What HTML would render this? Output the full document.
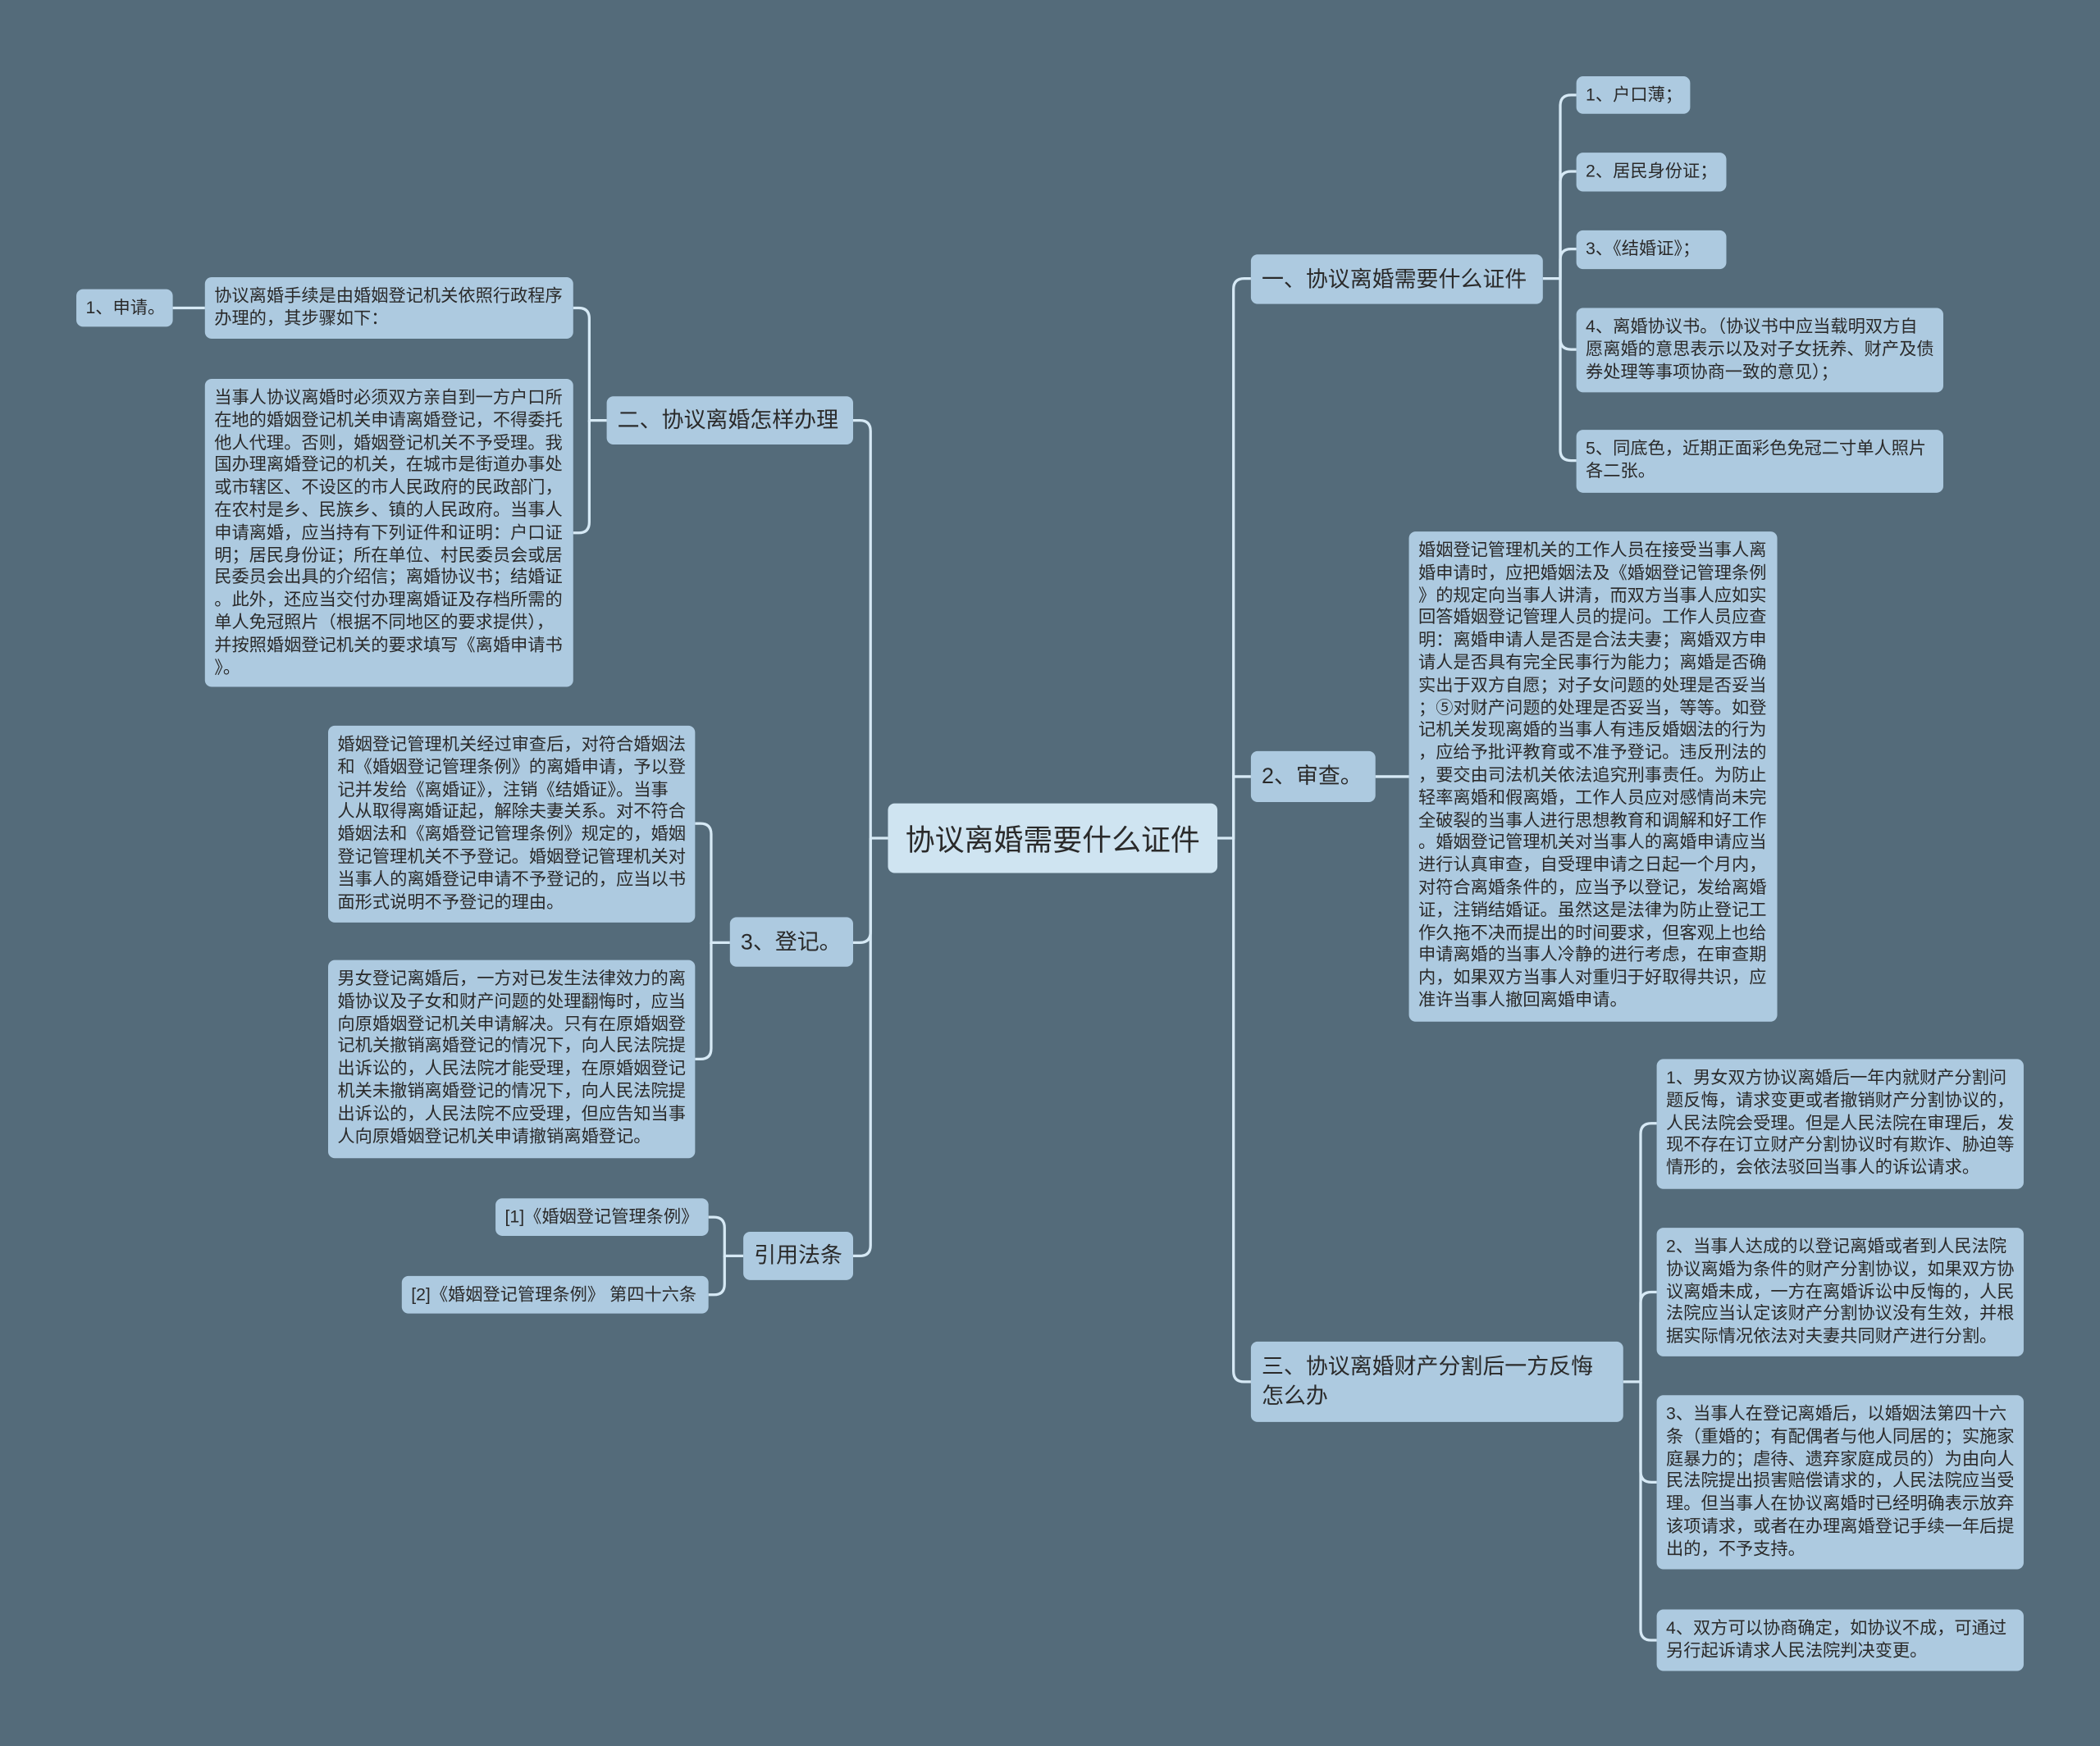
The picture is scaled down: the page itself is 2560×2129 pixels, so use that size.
<!DOCTYPE html>
<html><head><meta charset="utf-8">
<style>
html,body{margin:0;padding:0;background:#546b7a;}
body{width:2560px;height:2129px;overflow:hidden;position:relative;}
#c{position:absolute;left:0;top:0;width:1568px;height:1304px;transform:scale(1.632653);transform-origin:0 0;font-family:"Liberation Sans","Noto Sans CJK SC",sans-serif;color:#2a2a2a;}
.n{position:absolute;box-sizing:border-box;background:#adcae0;border-radius:5px;white-space:nowrap;}
.s{font-size:13px;line-height:16.8px;padding:6px 7px;}
.b{font-size:16.5px;line-height:22px;padding:0 8px;display:flex;align-items:center;}
svg{position:absolute;left:0;top:0;}
</style></head><body><div id="c">
<svg width="1568" height="1304" fill="none" stroke="#d6e9f5" stroke-width="2">
<path d="M909 626 H921 V216 Q921 208 929 208 H934"/>
<path d="M921 626 V580 H934"/>
<path d="M921 626 V1024 Q921 1032 929 1032 H934"/>
<path d="M663 626 H650 V322 Q650 314 642 314 H637"/>
<path d="M650 626 V696 Q650 704 642 704 H637"/>
<path d="M650 626 V930 Q650 938 642 938 H637"/>
<path d="M453 314 H440 V238 Q440 230 432 230 H428"/>
<path d="M440 314 V390 Q440 398 432 398 H428"/>
<path d="M153 230 H129"/>
<path d="M545 704 H531 V623 Q531 615 523 615 H519"/>
<path d="M531 704 V783 Q531 791 523 791 H519"/>
<path d="M555 938 H541 V917 Q541 909 533 909 H529"/>
<path d="M541 938 V959 Q541 967 533 967 H529"/>
<path d="M1152 208 H1165 V79 Q1165 71 1173 71 H1177"/>
<path d="M1165 208 V136 Q1165 128 1173 128 H1177"/>
<path d="M1165 208 V194 Q1165 186 1173 186 H1177"/>
<path d="M1165 208 V253 Q1165 261 1173 261 H1177"/>
<path d="M1165 208 V336 Q1165 344 1173 344 H1177"/>
<path d="M1027 580 H1052"/>
<path d="M1212 1032 H1225 V847 Q1225 839 1233 839 H1237"/>
<path d="M1225 1032 V973 Q1225 965 1233 965 H1237"/>
<path d="M1225 1032 V1099 Q1225 1107 1233 1107 H1237"/>
<path d="M1225 1032 V1217 Q1225 1225 1233 1225 H1237"/>
</svg>

<div class="n" style="left:663px;top:600px;width:246px;height:52px;background:#cfe4f1;font-size:22px;display:flex;align-items:center;justify-content:center;">协议离婚需要什么证件</div>

<div class="n b" style="left:453px;top:296px;width:184px;height:36px;">二、协议离婚怎样办理</div>
<div class="n s" style="left:153px;top:207px;width:275px;height:46px;">协议离婚手续是由婚姻登记机关依照行政程序<br>办理的，其步骤如下：</div>
<div class="n s" style="left:57px;top:216px;width:72px;height:28px;">1、申请。</div>
<div class="n s" style="left:153px;top:283px;width:275px;height:230px;">当事人协议离婚时必须双方亲自到一方户口所<br>在地的婚姻登记机关申请离婚登记，不得委托<br>他人代理。否则，婚姻登记机关不予受理。我<br>国办理离婚登记的机关，在城市是街道办事处<br>或市辖区、不设区的市人民政府的民政部门，<br>在农村是乡、民族乡、镇的人民政府。当事人<br>申请离婚，应当持有下列证件和证明：户口证<br>明；居民身份证；所在单位、村民委员会或居<br>民委员会出具的介绍信；离婚协议书；结婚证<br>。此外，还应当交付办理离婚证及存档所需的<br>单人免冠照片（根据不同地区的要求提供），<br>并按照婚姻登记机关的要求填写《离婚申请书<br>》。</div>

<div class="n b" style="left:545px;top:685px;width:92px;height:37px;">3、登记。</div>
<div class="n s" style="left:245px;top:542px;width:274px;height:147px;">婚姻登记管理机关经过审查后，对符合婚姻法<br>和《婚姻登记管理条例》的离婚申请，予以登<br>记并发给《离婚证》，注销《结婚证》。当事<br>人从取得离婚证起，解除夫妻关系。对不符合<br>婚姻法和《离婚登记管理条例》规定的，婚姻<br>登记管理机关不予登记。婚姻登记管理机关对<br>当事人的离婚登记申请不予登记的，应当以书<br>面形式说明不予登记的理由。</div>
<div class="n s" style="left:245px;top:717px;width:274px;height:148px;">男女登记离婚后，一方对已发生法律效力的离<br>婚协议及子女和财产问题的处理翻悔时，应当<br>向原婚姻登记机关申请解决。只有在原婚姻登<br>记机关撤销离婚登记的情况下，向人民法院提<br>出诉讼的，人民法院才能受理，在原婚姻登记<br>机关未撤销离婚登记的情况下，向人民法院提<br>出诉讼的，人民法院不应受理，但应告知当事<br>人向原婚姻登记机关申请撤销离婚登记。</div>

<div class="n b" style="left:555px;top:920px;width:82px;height:36px;">引用法条</div>
<div class="n s" style="left:370px;top:895px;width:159px;height:28px;">[1]《婚姻登记管理条例》</div>
<div class="n s" style="left:300px;top:953px;width:229px;height:28px;">[2]《婚姻登记管理条例》 第四十六条</div>

<div class="n b" style="left:934px;top:190px;width:218px;height:37px;">一、协议离婚需要什么证件</div>
<div class="n s" style="left:1177px;top:57px;width:85px;height:28px;">1、户口薄；</div>
<div class="n s" style="left:1177px;top:114px;width:112px;height:29px;">2、居民身份证；</div>
<div class="n s" style="left:1177px;top:172px;width:112px;height:29px;">3、《结婚证》；</div>
<div class="n s" style="left:1177px;top:230px;width:274px;height:63px;">4、离婚协议书。（协议书中应当载明双方自<br>愿离婚的意思表示以及对子女抚养、财产及债<br>券处理等事项协商一致的意见）；</div>
<div class="n s" style="left:1177px;top:321px;width:274px;height:47px;">5、同底色，近期正面彩色免冠二寸单人照片<br>各二张。</div>

<div class="n b" style="left:934px;top:561px;width:93px;height:38px;">2、审查。</div>
<div class="n s" style="left:1052px;top:397px;width:275px;height:366px;">婚姻登记管理机关的工作人员在接受当事人离<br>婚申请时，应把婚姻法及《婚姻登记管理条例<br>》的规定向当事人讲清，而双方当事人应如实<br>回答婚姻登记管理人员的提问。工作人员应查<br>明：离婚申请人是否是合法夫妻；离婚双方申<br>请人是否具有完全民事行为能力；离婚是否确<br>实出于双方自愿；对子女问题的处理是否妥当<br>；⑤对财产问题的处理是否妥当，等等。如登<br>记机关发现离婚的当事人有违反婚姻法的行为<br>，应给予批评教育或不准予登记。违反刑法的<br>，要交由司法机关依法追究刑事责任。为防止<br>轻率离婚和假离婚，工作人员应对感情尚未完<br>全破裂的当事人进行思想教育和调解和好工作<br>。婚姻登记管理机关对当事人的离婚申请应当<br>进行认真审查，自受理申请之日起一个月内，<br>对符合离婚条件的，应当予以登记，发给离婚<br>证，注销结婚证。虽然这是法律为防止登记工<br>作久拖不决而提出的时间要求，但客观上也给<br>申请离婚的当事人冷静的进行考虑，在审查期<br>内，如果双方当事人对重归于好取得共识，应<br>准许当事人撤回离婚申请。</div>

<div class="n b" style="left:934px;top:1002px;width:278px;height:60px;line-height:22px;white-space:normal;align-items:center;">三、协议离婚财产分割后一方反悔怎么办</div>
<div class="n s" style="left:1237px;top:791px;width:274px;height:97px;">1、男女双方协议离婚后一年内就财产分割问<br>题反悔，请求变更或者撤销财产分割协议的，<br>人民法院会受理。但是人民法院在审理后，发<br>现不存在订立财产分割协议时有欺诈、胁迫等<br>情形的，会依法驳回当事人的诉讼请求。</div>
<div class="n s" style="left:1237px;top:917px;width:274px;height:96px;">2、当事人达成的以登记离婚或者到人民法院<br>协议离婚为条件的财产分割协议，如果双方协<br>议离婚未成，一方在离婚诉讼中反悔的，人民<br>法院应当认定该财产分割协议没有生效，并根<br>据实际情况依法对夫妻共同财产进行分割。</div>
<div class="n s" style="left:1237px;top:1042px;width:274px;height:130px;">3、当事人在登记离婚后，以婚姻法第四十六<br>条（重婚的；有配偶者与他人同居的；实施家<br>庭暴力的；虐待、遗弃家庭成员的）为由向人<br>民法院提出损害赔偿请求的，人民法院应当受<br>理。但当事人在协议离婚时已经明确表示放弃<br>该项请求，或者在办理离婚登记手续一年后提<br>出的，不予支持。</div>
<div class="n s" style="left:1237px;top:1202px;width:274px;height:46px;">4、双方可以协商确定，如协议不成，可通过<br>另行起诉请求人民法院判决变更。</div>
</div></body></html>
